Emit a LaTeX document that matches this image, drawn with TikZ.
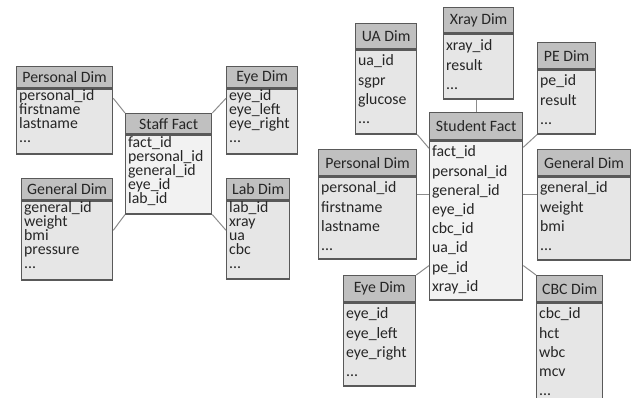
\documentclass[tikz,border=0pt]{standalone}
\usepackage{fontspec}
\setmainfont{Carlito}
\usetikzlibrary{positioning}
\definecolor{headfill}{HTML}{C0C0C0}
\definecolor{bodyfill}{HTML}{E6E6E6}
\definecolor{factfill}{HTML}{F2F2F2}
\definecolor{edgec}{HTML}{595959}
\definecolor{linkc}{HTML}{8C8C8C}
\definecolor{ink}{HTML}{262626}

\begin{document}
\begin{tikzpicture}[x=1pt, y=-1pt,
  every node/.style={font=\fontsize{15.8pt}{14pt}\selectfont, text=ink},
  tabhead/.style={draw=edgec, line width=1.3pt, fill=headfill, anchor=north west, inner sep=0pt},
  tabbody/.style={draw=edgec, line width=1.3pt, fill=bodyfill, anchor=north west, align=left,
    inner xsep=2.5pt, inner ysep=0pt, execute at begin node={\lineskiplimit=-20pt}},
  factbody/.style={tabbody, fill=factfill},
  tight/.style={font=\fontsize{15.8pt}{14pt}\selectfont, text height=12pt},
  loose/.style={font=\fontsize{15.8pt}{19.2pt}\selectfont, text height=16pt},
  link/.style={draw=linkc, line width=1pt}]

\clip (0,0) rectangle (632,398);

% ---------- Staff star (left) ----------
% Personal Dim
\node[tabhead, minimum width=96pt, minimum height=21pt] (spersh) at (16,66) {Personal Dim};
\node[tabbody, tight, text width=91pt, text depth=53pt] (spersb) at (spersh.south west)
  {personal\_id\\firstname\\lastname\\...};

% Eye Dim
\node[tabhead, minimum width=71pt, minimum height=21pt] (seyeh) at (226,66) {Eye Dim};
\node[tabbody, tight, text width=66pt, text depth=53pt] (seyeb) at (seyeh.south west)
  {eye\_id\\eye\_left\\eye\_right\\...};

% Staff Fact
\node[tabhead, minimum width=86pt, minimum height=20pt] (sfacth) at (125,113) {Staff Fact};
\node[factbody, tight, text height=13pt, text width=81pt, text depth=66pt] (sfactb) at (sfacth.south west)
  {fact\_id\\personal\_id\\general\_id\\eye\_id\\lab\_id};

% General Dim
\node[tabhead, minimum width=91pt, minimum height=21pt] (sgenh) at (21,178) {General Dim};
\node[tabbody, tight, text width=86pt, text depth=67pt] (sgenb) at (sgenh.south west)
  {general\_id\\weight\\bmi\\pressure\\...};

% Lab Dim
\node[tabhead, minimum width=63pt, minimum height=21pt] (slabh) at (226,178) {Lab Dim};
\node[tabbody, tight, text width=58pt, text depth=66pt] (slabb) at (slabh.south west)
  {lab\_id\\xray\\ua\\cbc\\...};

% links
\draw[link] ([yshift=-10pt]spersb.north east) -- (sfacth.north west);
\draw[link] ([yshift=-10pt]seyeb.north west) -- (sfacth.north east);
\draw[link] ([yshift=-30pt]sgenb.north east) -- (sfactb.south west);
\draw[link] ([yshift=-30pt]slabb.north west) -- (sfactb.south east);

% ---------- Student star (right) ----------
% UA Dim
\node[tabhead, minimum width=61pt, minimum height=25pt] (uah) at (355,23) {UA Dim};
\node[tabbody, loose, text width=56pt, text depth=68pt] (uab) at (uah.south west)
  {ua\_id\\sgpr\\glucose\\...};

% Xray Dim
\node[tabhead, minimum width=70pt, minimum height=25pt] (xrayh) at (443,7) {Xray Dim};
\node[tabbody, loose, text height=17pt, text width=65pt, text depth=48pt] (xrayb) at (xrayh.south west)
  {xray\_id\\result\\...};

% PE Dim
\node[tabhead, minimum width=58pt, minimum height=26pt] (peh) at (537,42) {PE Dim};
\node[tabbody, loose, text width=53pt, text depth=48pt] (peb) at (peh.south west)
  {pe\_id\\result\\...};

% Student Fact
\node[tabhead, minimum width=93pt, minimum height=27pt] (stfacth) at (429,112) {Student Fact};
\node[factbody, loose, text width=88pt, text depth=143pt] (stfactb) at (stfacth.south west)
  {fact\_id\\personal\_id\\general\_id\\eye\_id\\cbc\_id\\ua\_id\\pe\_id\\xray\_id};

% Personal Dim
\node[tabhead, minimum width=98pt, minimum height=26pt] (rpersh) at (318,149) {Personal Dim};
\node[tabbody, loose, text width=93pt, text depth=66pt] (rpersb) at (rpersh.south west)
  {personal\_id\\firstname\\lastname\\...};

% General Dim
\node[tabhead, minimum width=93pt, minimum height=26pt] (rgenh) at (537,149) {General Dim};
\node[tabbody, loose, text width=88pt, text depth=67pt] (rgenb) at (rgenh.south west)
  {general\_id\\weight\\bmi\\...};

% Eye Dim
\node[tabhead, minimum width=72pt, minimum height=26pt] (reyeh) at (343,275) {Eye Dim};
\node[tabbody, loose, text width=67pt, text depth=67pt] (reyeb) at (reyeh.south west)
  {eye\_id\\eye\_left\\eye\_right\\...};

% CBC Dim
\node[tabhead, minimum width=66pt, minimum height=26pt] (cbch) at (536,275) {CBC Dim};
\node[tabbody, loose, text width=61pt, text depth=88pt] (cbcb) at (cbch.south west)
  {cbc\_id\\hct\\wbc\\mcv\\...};

% links
\coordinate (rp) at ([yshift=-18pt]rpersb.north east);
\coordinate (rg) at ([yshift=-18pt]rgenb.north west);
\draw[link] (stfacth.north) -- (stfacth.north |- xrayb.south);
\draw[link] (uab.south east) -- ([yshift=-8pt]stfactb.north west);
\draw[link] (peb.south west) -- ([yshift=-7pt]stfactb.north east);
\draw[link] (rp) -- (rp -| stfactb.west);
\draw[link] (rg) -- (rg -| stfactb.east);
\draw[link] (reyeh.north east) -- ([yshift=35pt]stfactb.south west);
\draw[link] (cbch.north west) -- ([yshift=35pt]stfactb.south east);

\end{tikzpicture}
\end{document}
